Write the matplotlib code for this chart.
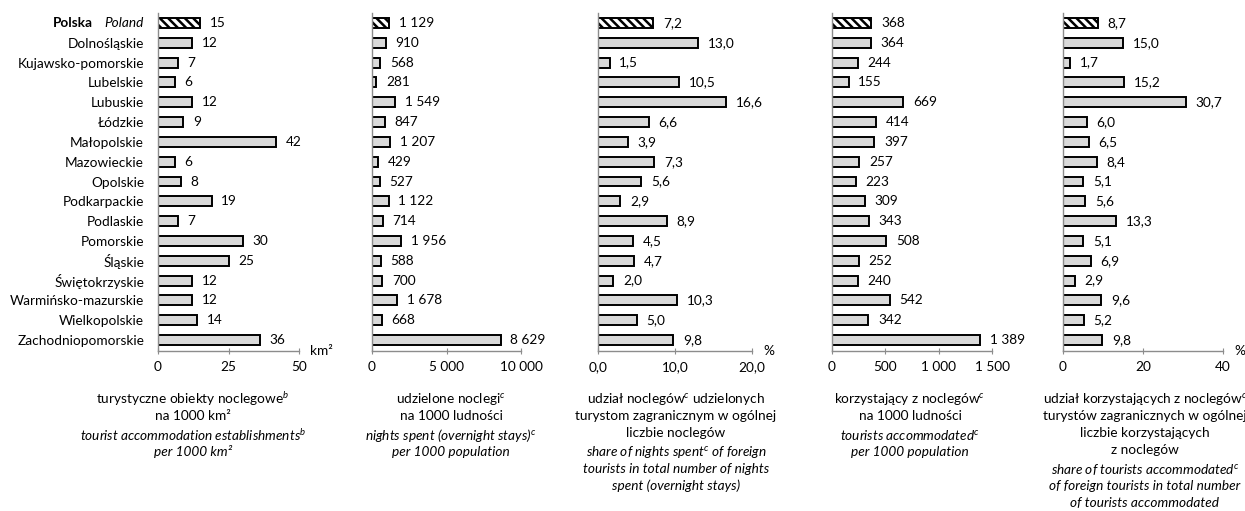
import numpy as np
import matplotlib
matplotlib.use("Agg")
import matplotlib.pyplot as plt

plt.rcParams['font.family'] = ['Lato', 'DejaVu Sans']
plt.rcParams['mathtext.fontset'] = 'custom'
plt.rcParams['mathtext.rm'] = 'Lato'
plt.rcParams['mathtext.it'] = 'Lato:italic'
plt.rcParams['mathtext.bf'] = 'Lato:bold'
plt.rcParams['hatch.linewidth'] = 1.8

# data
regions = ["Polska", "Dolnośląskie", "Kujawsko-pomorskie", "Lubelskie", "Lubuskie",
           "Łódzkie", "Małopolskie", "Mazowieckie", "Opolskie", "Podkarpackie",
           "Podlaskie", "Pomorskie", "Śląskie", "Świętokrzyskie",
           "Warmińsko-mazurskie", "Wielkopolskie", "Zachodniopomorskie"]

establishments = [15, 12, 7, 6, 12, 9, 42, 6, 8, 19, 7, 30, 25, 12, 12, 14, 36]
nights = [1129, 910, 568, 281, 1549, 847, 1207, 429, 527, 1122, 714, 1956, 588, 700, 1678, 668, 8629]
nights_foreign = [7.2, 13.0, 1.5, 10.5, 16.6, 6.6, 3.9, 7.3, 5.6, 2.9, 8.9, 4.5, 4.7, 2.0, 10.3, 5.0, 9.8]
tourists = [368, 364, 244, 155, 669, 414, 397, 257, 223, 309, 343, 508, 252, 240, 542, 342, 1389]
tourists_foreign = [8.7, 15.0, 1.7, 15.2, 30.7, 6.0, 6.5, 8.4, 5.1, 5.6, 13.3, 5.1, 6.9, 2.9, 9.6, 5.2, 9.8]

xticks = [[0, 25, 50], [0, 5000, 10000], [0, 10, 20], [0, 500, 1000, 1500], [0, 20, 40]]
units = ["km²", None, "%", None, "%"]

captions_pl = [
    "turystyczne obiekty noclegowe$^{b}$\nna 1000 km²",
    "udzielone noclegi$^{c}$\nna 1000 ludności",
    "udział noclegów$^{c}$ udzielonych\nturystom zagranicznym w ogólnej\nliczbie noclegów",
    "korzystający z noclegów$^{c}$\nna 1000 ludności",
    "udział korzystających z noclegów$^{c}$\nturystów zagranicznych w ogólnej\nliczbie korzystających\nz noclegów",
]
captions_en = [
    "tourist accommodation establishments$^{b}$\nper 1000 km²",
    "nights spent (overnight stays)$^{c}$\nper 1000 population",
    "share of nights spent$^{c}$ of foreign\ntourists in total number of nights\nspent (overnight stays)",
    "tourists accommodated$^{c}$\nper 1000 population",
    "share of tourists accommodated$^{c}$\nof foreign tourists in total number\nof tourists accommodated",
]


def fmt_int(v):
    return f"{v:,.0f}".replace(",", " ")


def fmt_dec(v):
    return f"{v:.1f}".replace(".", ",")


series = [establishments, nights, nights_foreign, tourists, tourists_foreign]
val_fmt = [fmt_int, fmt_int, fmt_dec, fmt_int, fmt_dec]
tick_fmt = [fmt_int, fmt_int, fmt_dec, fmt_int, fmt_int]

# layout in pixels (x0, x1) of each plot area
W, H = 1245, 511
panels_px = [(158, 299), (372, 521), (598, 752), (832, 992), (1063, 1223)]
caption_cx = [193, 451, 676, 910, 1145]
top_px, bot_px = 13, 351
FS = 9.8

fig = plt.figure(figsize=(W / 100, H / 100), dpi=100)
y = np.arange(len(regions))

for k, (x0, x1) in enumerate(panels_px):
    ax = fig.add_axes([x0 / W, 1 - bot_px / H, (x1 - x0) / W, (bot_px - top_px) / H])
    vals = series[k]
    colors = ['white'] + ['#d9d9d9'] * (len(vals) - 1)
    bars = ax.barh(y, vals, height=0.5, color=colors, edgecolor='black', linewidth=1.4)
    bars[0].set_hatch('\\\\\\\\')
    ax.bar_label(bars, labels=[val_fmt[k](v) for v in vals], padding=7, fontsize=FS)
    ax.set_ylim(16.555, -0.505)
    ax.set_xlim(xticks[k][0], xticks[k][-1])
    ax.set_xticks(xticks[k])
    ax.set_xticklabels([tick_fmt[k](t) for t in xticks[k]], fontsize=FS)
    ax.tick_params(axis='x', direction='inout', length=5, color='#8c8c8c', pad=5)
    for s in ['top', 'right']:
        ax.spines[s].set_visible(False)
    for s in ['left', 'bottom']:
        ax.spines[s].set_color('#8c8c8c')
        ax.spines[s].set_linewidth(1.0)
    ax.set_yticks(y)
    if k == 0:
        ax.set_yticklabels([""] + regions[1:], fontsize=FS)
        ax.tick_params(axis='y', length=0, pad=10)
        ax.annotate("Poland", xy=(0, y[0]), xycoords=('axes fraction', 'data'),
                    xytext=(-10, 0), textcoords='offset points', ha='right', va='center',
                    fontsize=FS, style='italic')
        ax.annotate(regions[0], xy=(0, y[0]), xycoords=('axes fraction', 'data'),
                    xytext=(-47, 0), textcoords='offset points', ha='right', va='center',
                    fontsize=FS, weight='bold')
    else:
        ax.set_yticklabels([])
        ax.tick_params(axis='y', length=0)
    if units[k]:
        ax.annotate(units[k], xy=(1, 0), xycoords='axes fraction', xytext=(8, 0),
                    textcoords='offset points', ha='left', va='center', fontsize=FS)

    # captions
    cx = caption_cx[k] / W
    ypix = 399
    for line in captions_pl[k].split("\n"):
        fig.text(cx, 1 - ypix / H, line, ha='center', va='center', fontsize=FS)
        ypix += 17
    ypix += 2
    for line in captions_en[k].split("\n"):
        fig.text(cx, 1 - ypix / H, line, ha='center', va='center', fontsize=FS, style='italic')
        ypix += 17

fig.savefig("out.png", dpi=100)
